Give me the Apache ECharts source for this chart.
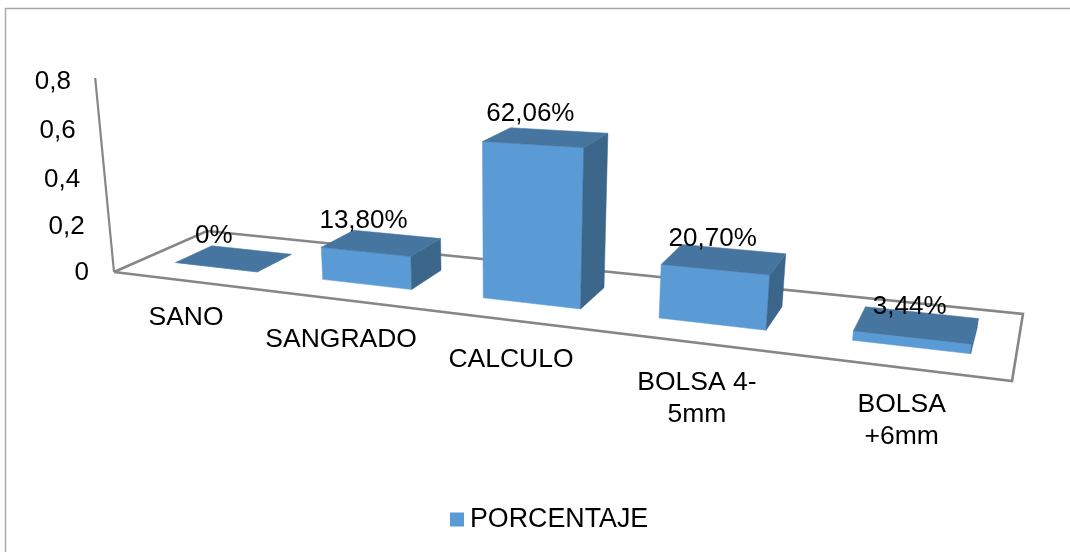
<!DOCTYPE html>
<html>
<head>
<meta charset="utf-8">
<style>html,body{margin:0;padding:0;background:#fff}#chart{width:1070px;height:552px}</style>
<script src="https://cdn.jsdelivr.net/npm/echarts@6/dist/echarts.min.js"></script>
</head>
<body>
<div id="chart"></div>
<script>
// Chart data
const categories = ['SANO', 'SANGRADO', 'CALCULO', 'BOLSA 4-\n5mm', 'BOLSA\n+6mm'];
const values = [0, 0.138, 0.6206, 0.207, 0.0344];
const valueLabels = ['0%', '13,80%', '62,06%', '20,70%', '3,44%'];
const yTicks = [0, 0.2, 0.4, 0.6, 0.8];
const yTickLabels = ['0', '0,2', '0,4', '0,6', '0,8'];
const seriesName = 'PORCENTAJE';

// Colours and type
const FRONT = '#5B9BD5', TOP = '#4675A0', SIDE = '#3B6589', AXIS = '#868686', FRAME = '#A6A6A6';
const FAMILY = '"Liberation Sans", Arial, sans-serif';
const FONT = '26px ' + FAMILY, CAT_FONT = '26.5px ' + FAMILY;

// Hidden plotting rectangle: the axes' scales are read from here and then
// projected onto the tilted floor of the 3D scene.
const GRID = { left: 100, top: 100, width: 800, height: 300 };

// Perspective camera: floor plane (u along categories, d into depth) plus vertical column
const CAM = {
  a: 635.7, b: 114.5, c: 114, d: 10.2, e: -17, f: 272, g: -0.2592, h: 0.104,
  vx: -22.3, vy: -190, vw: -0.0443
};
const U_WARP = 0.06;
function project(u, d, H) {
  const w = CAM.g * u + CAM.h * d + 1 + CAM.vw * H;
  return [
    (CAM.a * u + CAM.b * d + CAM.c + CAM.vx * H) / w,
    (CAM.d * u + CAM.e * d + CAM.f + CAM.vy * H) / w
  ];
}
// Axis coordinates to scene coordinates, through the chart's own scales
function tOf(px) { return (px - GRID.left) / GRID.width; }
function warp(t) { return t * (1 + U_WARP) / (1 + U_WARP * t); }
function hOf(py) { return (GRID.top + GRID.height - py) / GRID.height; }

// Bar footprint in the scene
const BAR_SHIFT = 0.002, BAR_HALF = 0.0565, DEPTH_FRONT = 0.3, DEPTH_BACK = 0.7;
// Category labels sit below the front floor edge, staggered with the perspective
const CAT_DX = [0, 1, 2, 2, 1], CAT_DY = [37, 40, 40, 40, 37], LINE_H = 32;

function poly(points, fill) {
  return { type: 'polygon', shape: { points }, style: { fill, stroke: fill, lineWidth: 0.5 } };
}
function label(text, x, y, align) {
  return {
    type: 'text',
    style: { text, x, y, fill: '#000', font: FONT, align: align || 'center', verticalAlign: 'middle' }
  };
}

const option = {
  animation: false,
  backgroundColor: '#fff',
  grid: GRID,
  xAxis: { type: 'category', data: categories, show: false },
  yAxis: { type: 'value', min: 0, max: 0.8, interval: 0.2, show: false },
  legend: {
    data: [{ name: seriesName, icon: 'rect', itemStyle: { color: FRONT } }],
    left: 450, top: 506, padding: 0, itemWidth: 14, itemHeight: 14, selectedMode: false,
    textStyle: { color: '#000', fontFamily: FAMILY, fontSize: 26.8, padding: [0, 0, 4, 1] }
  },
  graphic: [{
    type: 'polyline', silent: true, z: 0,
    shape: { points: [[5.5, 552], [5.5, 8.5], [1070, 8.5]] },
    style: { fill: 'none', stroke: FRAME, lineWidth: 1.4 }
  }],
  series: [
    {
      // Floor outline and vertical axis
      type: 'custom', coordinateSystem: 'cartesian2d', silent: true, z: 1,
      data: [[0, 0.8]],
      renderItem(params, api) {
        const H = hOf(api.coord([0, api.value(1)])[1]) * 1.04;
        const pts = [[0, 0, 0], [0, 1, 0], [1, 1, 0], [1, 0, 0], [0, 0, 0]].map(p => project(p[0], p[1], p[2]));
        const top = project(0, 0, H);
        return {
          type: 'group',
          children: [
            { type: 'polyline', shape: { points: pts }, style: { fill: 'none', stroke: AXIS, lineWidth: 2.6 } },
            { type: 'line', shape: { x1: pts[0][0], y1: pts[0][1], x2: top[0], y2: top[1] },
              style: { stroke: AXIS, lineWidth: 2.2 } }
          ]
        };
      }
    },
    {
      // Value-axis tick labels follow the leaning axis line
      type: 'custom', coordinateSystem: 'cartesian2d', silent: true, z: 3,
      data: yTicks.map(t => [0, t]),
      renderItem(params, api) {
        const H = hOf(api.coord([0, api.value(1)])[1]);
        const p = project(0, 0, H);
        return label(yTickLabels[params.dataIndex], p[0] - 25, p[1] + 1 - 5 * H, 'right');
      }
    },
    {
      // Category labels along the front floor edge
      type: 'custom', coordinateSystem: 'cartesian2d', silent: true, z: 3,
      data: categories.map((c, i) => [i, 0]),
      renderItem(params, api) {
        const i = params.dataIndex;
        const p = project(warp(tOf(api.coord([api.value(0), 0])[0])), 0, 0);
        return {
          type: 'text',
          style: {
            text: categories[i], x: p[0] + CAT_DX[i], y: p[1] + CAT_DY[i] - LINE_H / 2,
            fill: '#000', font: CAT_FONT, align: 'center', verticalAlign: 'top', lineHeight: LINE_H
          }
        };
      }
    },
    {
      // 3D bars with their value labels
      name: seriesName,
      type: 'custom', coordinateSystem: 'cartesian2d', silent: true, z: 2,
      itemStyle: { color: FRONT },
      encode: { x: 0, y: 1 },
      data: values.map((v, i) => [i, v]),
      renderItem(params, api) {
        const c = api.coord([api.value(0), api.value(1)]);
        const t = tOf(c[0]), H = hOf(c[1]);
        const uc = warp(t) + BAR_SHIFT;
        const u0 = warp(t - BAR_HALF) + BAR_SHIFT, u1 = warp(t + BAR_HALF) + BAR_SHIFT;
        const fl0 = project(u0, DEPTH_FRONT, 0), fr0 = project(u1, DEPTH_FRONT, 0), br0 = project(u1, DEPTH_BACK, 0);
        const fl = project(u0, DEPTH_FRONT, H), fr = project(u1, DEPTH_FRONT, H);
        const br = project(u1, DEPTH_BACK, H), bl = project(u0, DEPTH_BACK, H);
        const anchor = project(uc, DEPTH_FRONT, H);
        return {
          type: 'group',
          children: [
            poly([fl0, fr0, fr, fl], FRONT),
            poly([fr0, br0, br, fr], SIDE),
            poly([fl, fr, br, bl], TOP),
            Object.assign(label(valueLabels[params.dataIndex], anchor[0] - 2, anchor[1] - 31), { z2: 10 })
          ]
        };
      }
    }
  ]
};

const chart = echarts.init(document.getElementById('chart'));
chart.setOption(option);
</script>
</body>
</html>
